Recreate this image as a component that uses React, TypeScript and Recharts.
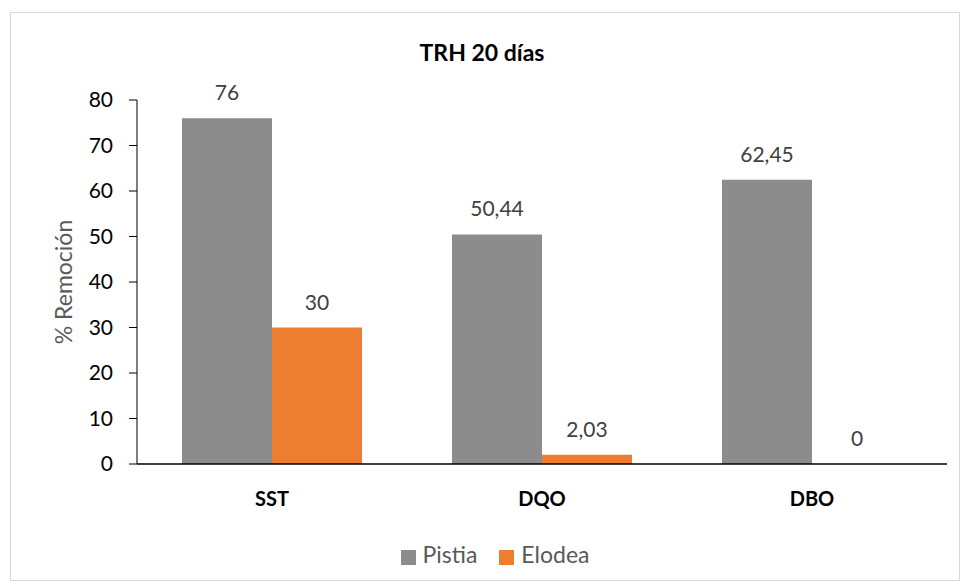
import { BarChart, Bar, XAxis, YAxis, LabelList, Legend } from "recharts"

const categories = ["SST", "DQO", "DBO"]
const pistia = [76, 50.44, 62.45]
const elodea = [30, 2.03, 0]
const yTicks = [0, 10, 20, 30, 40, 50, 60, 70, 80]

const data = categories.map((name, i) => ({ name, Pistia: pistia[i], Elodea: elodea[i] }))

const font = "Lato, 'Liberation Sans', sans-serif"

const fmt = (v: any) => String(v).replace(".", ",")

// value label above each bar, drawn also for zero-height bars
const renderLabel = (p: any) => {
    const { x, y, width, value } = p
    if (value === undefined || value === null) return null
    return (
        <text x={Number(x) + Number(width) / 2} y={Number(y) - 18} textAnchor="middle" fill="#404040" fontSize={21} fontFamily={font}>
            {fmt(value)}
        </text>
    )
}

const seriesOrder = ["Pistia", "Elodea"]

export default function App() {
    return (
        <div style={{ position: "absolute", left: 0, top: 0, width: 964, height: 588, background: "#fff", fontFamily: font }}>
            <div
                style={{
                    position: "absolute",
                    left: 10,
                    top: 12,
                    width: 948,
                    height: 567,
                    border: "1px solid #d9d9d9",
                }}
            />
            <div
                style={{
                    position: "absolute",
                    left: 0,
                    width: 964,
                    top: 38,
                    textAlign: "center",
                    fontWeight: 700,
                    fontSize: 23,
                    color: "#000",
                }}
            >
                TRH 20 días
            </div>
            <BarChart
                width={964}
                height={588}
                data={data}
                margin={{ top: 100, left: 77, right: 17, bottom: 66 }}
                barCategoryGap={45}
                barGap={0}
                style={{ position: "absolute", left: 0, top: 0 }}
            >
                <XAxis
                    dataKey="name"
                    tickLine={false}
                    tickSize={0}
                    tickMargin={28}
                    axisLine={{ stroke: "#000", strokeWidth: 1.5 }}
                    tick={{ fill: "#000", fontSize: 20, fontWeight: 700, fontFamily: font }}
                />
                <YAxis
                    width={60}
                    domain={[0, 80]}
                    ticks={yTicks}
                    interval={0}
                    tickSize={8}
                    tickMargin={16}
                    axisLine={{ stroke: "#000" }}
                    tickLine={{ stroke: "#000" }}
                    tick={{ fill: "#000", fontSize: 21, fontFamily: font }}
                    label={{
                        content: () => (
                            <text
                                x={63}
                                y={282}
                                transform="rotate(-90, 63, 282)"
                                textAnchor="middle"
                                dominantBaseline="central"
                                fill="#595959"
                                fontSize={23}
                                fontFamily={font}
                            >
                                % Remoción
                            </text>
                        ),
                    }}
                />
                <Legend
                    verticalAlign="bottom"
                    align="center"
                    iconType="square"
                    iconSize={15}
                    itemSorter={(item: any) => seriesOrder.indexOf(item.value)}
                    wrapperStyle={{ position: "absolute", top: 540, left: 24, width: 964, fontSize: 23, fontFamily: font }}
                    formatter={(value) => <span style={{ color: "#595959", marginLeft: 3, marginRight: 12 }}>{value}</span>}
                />
                <Bar dataKey="Pistia" fill="#8c8c8c" isAnimationActive={false}>
                    <LabelList dataKey="Pistia" content={renderLabel} />
                </Bar>
                <Bar dataKey="Elodea" fill="#ed7d31" minPointSize={0.01} isAnimationActive={false}>
                    <LabelList dataKey="Elodea" content={renderLabel} />
                </Bar>
            </BarChart>
        </div>
    )
}
